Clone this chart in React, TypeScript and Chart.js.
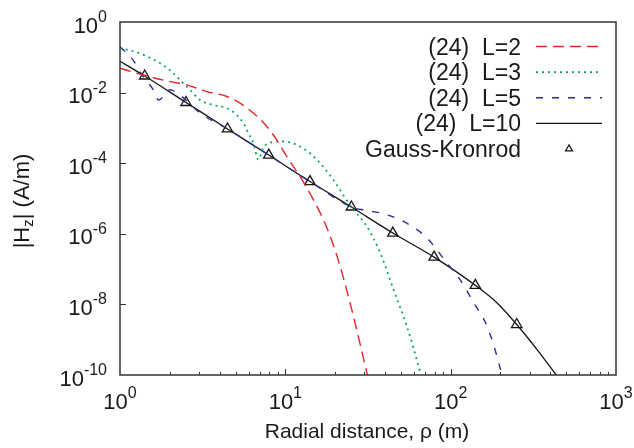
import React, { useEffect, useRef } from "react";
import { Chart, registerables } from "chart.js";
Chart.register(...registerables);

// ---- data ----
const l2X = [1, 1.38, 2.01, 2.53, 3.35, 4.43, 5.32, 6.41, 7.73, 8.87, 10.2, 12.8, 17.4, 20.6, 24.7, 31.3, 33.5];
const l2Y = [4.9e-2, 3.16e-2, 2.04e-2, 1.66e-2, 1.07e-2, 7.76e-3, 5.01e-3, 2.63e-3, 1.1e-3, 4.57e-4, 1.55e-4, 3.02e-5, 1.95e-6, 2.24e-7, 1.05e-8, 1.02e-10, 2.5e-11];

const l3X = [1, 1.32, 1.75, 2.1, 2.36, 2.65, 3.05, 3.67, 4.43, 5.08, 5.58, 5.98, 6.41, 6.87, 7.38, 8.4, 9.5, 12.3, 15.5, 19.5, 24.7, 31.1, 37.5, 45.1, 54.3, 65.5, 70];
const l3Y = [1.86e-1, 1.29e-1, 6.76e-2, 3.55e-2, 2.04e-2, 1.2e-2, 6.17e-3, 4.47e-3, 3.63e-3, 2.34e-3, 1.35e-3, 7.08e-4, 3.72e-4, 1.26e-4, 2.82e-4, 3.98e-4, 4.17e-4, 2.95e-4, 1.26e-4, 3.39e-5, 6.31e-6, 1.62e-6, 2.88e-7, 2.63e-8, 2.4e-9, 1.15e-10, 3.16e-11];

const l5X = [1, 1.2, 1.38, 1.59, 1.71, 2.01, 2.36, 3.05, 4.47, 7.94, 14.1, 25.1, 30, 37.5, 51.9, 71.9, 95, 114, 138, 166, 200, 210];
const l5Y = [2.0e-1, 8.32e-2, 2.82e-2, 1.2e-2, 6.17e-3, 1.2e-2, 7.76e-3, 2.63e-3, 9.33e-4, 1.7e-4, 3.02e-5, 5.75e-6, 4.68e-6, 3.89e-6, 2.24e-6, 7.59e-7, 1.48e-7, 5.01e-8, 1.1e-8, 2.4e-9, 1.45e-10, 5e-11];

const l10X = [1, 1.41, 2.51, 4.47, 7.94, 14.1, 25.1, 44.7, 79.4, 141, 191, 251, 333, 440];
const l10Y = [7.76e-2, 2.95e-2, 5.25e-3, 9.33e-4, 1.7e-4, 3.02e-5, 5.75e-6, 1.05e-6, 2.19e-7, 3.47e-8, 1.1e-8, 2.69e-9, 5.25e-10, 9.33e-11];

const gkX = [1.41, 2.51, 4.47, 7.94, 14.1, 25.1, 44.7, 79.4, 141, 251];
const gkY = [2.95e-2, 5.25e-3, 9.33e-4, 1.7e-4, 3.02e-5, 5.75e-6, 1.05e-6, 2.19e-7, 3.47e-8, 2.69e-9];

const xTickExps = [0, 1, 2, 3];
const yTickExps = [0, -2, -4, -6, -8, -10];
const legendLabels = ["(24)  L=2", "(24)  L=3", "(24)  L=5", "(24)  L=10", "Gauss-Kronrod"];
const xTitle = "Radial distance, \u03C1 (m)";
const yTitleParts = ["|H", "z", "| (A/m)"];

// ---- styles ----
const FONT = '"Liberation Sans", Arial, Helvetica, sans-serif';
const RED = "#e5262b";
const GREEN = "#00a651";
const BLUE = "#2b2f93";
const BLACK = "#151515";
const seriesStyles = [
  { color: RED, dash: [11, 6], width: 1.4 },
  { color: GREEN, dash: [2, 4], width: 1.7 },
  { color: BLUE, dash: [7, 9], width: 1.4 },
  { color: BLACK, dash: [], width: 1.3 },
];

const pts = (xs: number[], ys: number[]) => xs.map((x, i) => ({ x, y: ys[i] }));

const overlay = {
  id: "overlay",
  afterDraw(chart: any) {
    const { ctx, chartArea: a, scales } = chart;
    const xs = scales.x;
    const ys = scales.y;
    ctx.save();
    // frame
    ctx.strokeStyle = "#333";
    ctx.lineWidth = 1.5;
    ctx.setLineDash([]);
    ctx.strokeRect(a.left, a.top, a.right - a.left, a.bottom - a.top);
    // ticks
    ctx.lineWidth = 1;
    ctx.beginPath();
    for (let e = 0; e < 3; e++) {
      for (let m = 1; m < 10; m++) {
        if (m === 1 && e === 0) continue;
        const px = Math.round(xs.getPixelForValue(m * Math.pow(10, e))) + 0.5;
        const len = m === 1 ? 6 : 3;
        ctx.moveTo(px, a.bottom);
        ctx.lineTo(px, a.bottom - len);
      }
    }
    for (const e of yTickExps) {
      if (e === 0 || e === -10) continue;
      const py = Math.round(ys.getPixelForValue(Math.pow(10, e))) + 0.5;
      ctx.moveTo(a.left, py);
      ctx.lineTo(a.left + 6, py);
    }
    ctx.stroke();

    // tick labels
    ctx.fillStyle = "#1a1a1a";
    ctx.textBaseline = "alphabetic";
    const mainF = `22px ${FONT}`;
    const supF = `16px ${FONT}`;
    for (const e of xTickExps) {
      const px = xs.getPixelForValue(Math.pow(10, e));
      ctx.font = mainF;
      const w1 = ctx.measureText("10").width;
      ctx.font = supF;
      const w2 = ctx.measureText(String(e)).width;
      const x0 = px - (w1 + w2) / 2;
      ctx.textAlign = "left";
      ctx.font = mainF;
      ctx.fillText("10", x0, a.bottom + 34);
      ctx.font = supF;
      ctx.fillText(String(e), x0 + w1, a.bottom + 22.5);
    }
    for (const e of yTickExps) {
      const py = ys.getPixelForValue(Math.pow(10, e));
      const s = String(e);
      ctx.font = supF;
      const w2 = ctx.measureText(s).width;
      ctx.textAlign = "left";
      const right = 107;
      ctx.fillText(s, right - w2, py + 0);
      ctx.font = mainF;
      const w1 = ctx.measureText("10").width;
      ctx.fillText("10", right - w2 - w1, py + 10.5);
    }

    // axis titles
    ctx.font = `21px ${FONT}`;
    ctx.textAlign = "center";
    ctx.fillText(xTitle, 367, 438);

    ctx.save();
    ctx.translate(29, 201);
    ctx.rotate(-Math.PI / 2);
    ctx.textAlign = "left";
    const tF = `22px ${FONT}`;
    const sF = `15px ${FONT}`;
    ctx.font = tF;
    const p0 = ctx.measureText(yTitleParts[0]).width;
    const p2 = ctx.measureText(yTitleParts[2]).width;
    ctx.font = sF;
    const p1 = ctx.measureText(yTitleParts[1]).width;
    let tx = -(p0 + p1 + p2) / 2;
    ctx.font = tF;
    ctx.fillText(yTitleParts[0], tx, 0);
    tx += p0;
    ctx.font = sF;
    ctx.fillText(yTitleParts[1], tx, 4);
    tx += p1;
    ctx.font = tF;
    ctx.fillText(yTitleParts[2], tx, 0);
    ctx.restore();

    // legend
    ctx.font = `23px ${FONT}`;
    ctx.textAlign = "right";
    legendLabels.forEach((lab, i) => {
      const cy = 46.5 + i * 25.6;
      ctx.fillStyle = "#1a1a1a";
      ctx.fillText(lab, 521, cy + 8);
      if (i < 4) {
        const st = seriesStyles[i];
        ctx.strokeStyle = st.color;
        ctx.lineWidth = st.width;
        ctx.setLineDash(st.dash);
        ctx.beginPath();
        ctx.moveTo(536, cy);
        ctx.lineTo(602, cy);
        ctx.stroke();
        ctx.setLineDash([]);
      } else {
        const cx = 569;
        const r = 4;
        ctx.strokeStyle = BLACK;
        ctx.lineWidth = 1.2;
        ctx.beginPath();
        ctx.moveTo(cx, cy - r);
        ctx.lineTo(cx + r * 0.87, cy + r * 0.5);
        ctx.lineTo(cx - r * 0.87, cy + r * 0.5);
        ctx.closePath();
        ctx.stroke();
      }
    });
    ctx.restore();
  },
};

export default function App() {
  const ref = useRef<HTMLCanvasElement | null>(null);
  useEffect(() => {
    document.body.style.margin = "0";
    const canvas = ref.current;
    if (!canvas) return;
    const lineSets = [
      pts(l2X, l2Y),
      pts(l3X, l3Y),
      pts(l5X, l5Y),
      pts(l10X, l10Y),
    ].map((data, i) => ({
      data,
      borderColor: seriesStyles[i].color,
      borderWidth: seriesStyles[i].width,
      borderDash: seriesStyles[i].dash,
      pointRadius: 0,
      fill: false,
      showLine: true,
      cubicInterpolationMode: "monotone" as const,
      clip: 0,
    }));
    const chart = new Chart(canvas, {
      type: "line",
      data: {
        datasets: [
          ...lineSets,
          {
            data: pts(gkX, gkY),
            showLine: false,
            pointStyle: "triangle",
            pointRadius: 6,
            pointBorderWidth: 1.3,
            borderColor: BLACK,
            pointBorderColor: BLACK,
            pointBackgroundColor: "rgba(0,0,0,0)",
            backgroundColor: "rgba(0,0,0,0)",
            clip: false,
          } as any,
        ],
      },
      options: {
        responsive: false,
        animation: false,
        devicePixelRatio: 1,
        layout: { padding: { left: 120, top: 22, right: 18, bottom: 73 } },
        plugins: { legend: { display: false }, tooltip: { enabled: false } },
        scales: {
          x: { type: "logarithmic", min: 1, max: 1000, display: false },
          y: { type: "logarithmic", min: 1e-10, max: 1, display: false },
        },
      },
      plugins: [overlay],
    });
    return () => chart.destroy();
  }, []);
  return <canvas ref={ref} width={634} height={448} style={{ display: "block" }} />;
}
